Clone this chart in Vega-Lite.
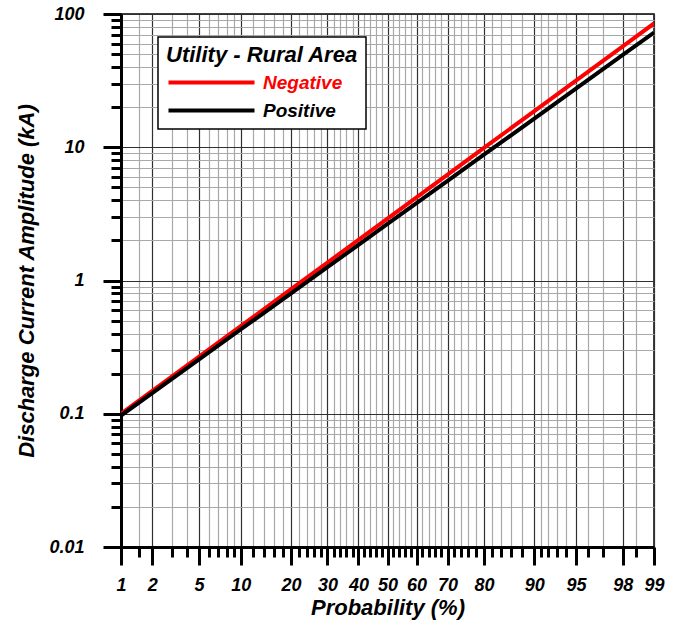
{
  "$schema": "https://vega.github.io/schema/vega-lite/v6.json",
  "width": 533,
  "height": 533,
  "autosize": {"type": "none"},
  "padding": {"left": 121, "top": 14, "right": 29, "bottom": 73},
  "background": "white",
  "config": {"view": {"stroke": "black", "strokeWidth": 1.5}, "font": "Liberation Sans"},
  "data": {"values": [
    {"series": "Negative", "p": 1, "I": 0.100},
    {"series": "Negative", "p": 2, "I": 0.1485},
    {"series": "Negative", "p": 5, "I": 0.2685},
    {"series": "Negative", "p": 10, "I": 0.4547},
    {"series": "Negative", "p": 20, "I": 0.8603},
    {"series": "Negative", "p": 30, "I": 1.362},
    {"series": "Negative", "p": 40, "I": 2.019},
    {"series": "Negative", "p": 50, "I": 2.915},
    {"series": "Negative", "p": 60, "I": 4.208},
    {"series": "Negative", "p": 70, "I": 6.234},
    {"series": "Negative", "p": 80, "I": 9.874},
    {"series": "Negative", "p": 90, "I": 18.68},
    {"series": "Negative", "p": 95, "I": 31.64},
    {"series": "Negative", "p": 98, "I": 57.24},
    {"series": "Negative", "p": 99, "I": 84.97},
    {"series": "Positive", "p": 1, "I": 0.0970},
    {"series": "Positive", "p": 2, "I": 0.1430},
    {"series": "Positive", "p": 5, "I": 0.2558},
    {"series": "Positive", "p": 10, "I": 0.4289},
    {"series": "Positive", "p": 20, "I": 0.8017},
    {"series": "Positive", "p": 30, "I": 1.259},
    {"series": "Positive", "p": 40, "I": 1.851},
    {"series": "Positive", "p": 50, "I": 2.655},
    {"series": "Positive", "p": 60, "I": 3.806},
    {"series": "Positive", "p": 70, "I": 5.596},
    {"series": "Positive", "p": 80, "I": 8.789},
    {"series": "Positive", "p": 90, "I": 16.43},
    {"series": "Positive", "p": 95, "I": 27.55},
    {"series": "Positive", "p": 98, "I": 49.27},
    {"series": "Positive", "p": 99, "I": 72.61}
  ]},
  "transform": [{"calculate": "quantileNormal(datum.p / 100)", "as": "z"}],
  "mark": {"type": "line", "strokeWidth": 4, "clip": true},
  "encoding": {
    "x": {
      "field": "z",
      "type": "quantitative",
      "scale": {"domain": [-2.326348, 2.326348], "nice": false, "zero": false},
      "axis": {
        "title": "Probability (%)",
        "values": [-2.326348, -2.170090, -2.053749, -1.880794, -1.750686, -1.644854, -1.554774, -1.475791, -1.405072, -1.340755, -1.281552, -1.174987, -1.080319, -0.994458, -0.915365, -0.841621, -0.772193, -0.706303, -0.643345, -0.582842, -0.524401, -0.467699, -0.412463, -0.358459, -0.305481, -0.253347, -0.201893, -0.150969, -0.100434, -0.050154, 0, 0.050154, 0.100434, 0.150969, 0.201893, 0.253347, 0.305481, 0.358459, 0.412463, 0.467699, 0.524401, 0.582842, 0.643345, 0.706303, 0.772193, 0.841621, 0.915365, 0.994458, 1.080319, 1.174987, 1.281552, 1.340755, 1.405072, 1.475791, 1.554774, 1.644854, 1.750686, 1.880794, 2.053749, 2.170090, 2.326348],
        "labelExpr": "indexof([1,2,5,10,20,30,40,50,60,70,80,90,95,98,99], round(cumulativeNormal(datum.value)*1000)/10) >= 0 ? '' + round(cumulativeNormal(datum.value)*100) : ''",
        "grid": true,
        "gridColor": {"condition": {"test": "indexof([1,2,5,10,20,30,40,50,60,70,80,90,95,98,99], round(cumulativeNormal(datum.value)*1000)/10) >= 0", "value": "#303030"}, "value": "#a8a8a8"},
        "gridWidth": 1.2,
        "tickSize": {"condition": {"test": "indexof([1,2,5,10,20,30,40,50,60,70,80,90,95,98,99], round(cumulativeNormal(datum.value)*1000)/10) >= 0", "value": 18}, "value": 10},
        "tickWidth": 3,
        "tickColor": "black",
        "domainColor": "black",
        "domainWidth": 3,
        "labelFont": "Liberation Sans",
        "labelFontSize": 18,
        "labelFontWeight": "bold",
        "labelFontStyle": "italic",
        "labelColor": "black",
        "labelPadding": 11,
        "labelOverlap": false,
        "labelFlush": false,
        "labelBound": false,
        "titleFont": "Liberation Sans",
        "titleFontSize": 22,
        "titleFontWeight": "bold",
        "titleFontStyle": "italic",
        "titleColor": "black",
        "titlePadding": 3
      }
    },
    "y": {
      "field": "I",
      "type": "quantitative",
      "scale": {"type": "log", "domain": [0.01, 100], "nice": false},
      "axis": {
        "title": "Discharge Current Amplitude (kA)",
        "values": [0.01, 0.02, 0.03, 0.04, 0.05, 0.06, 0.07, 0.08, 0.09, 0.1, 0.2, 0.3, 0.4, 0.5, 0.6, 0.7, 0.8, 0.9, 1, 2, 3, 4, 5, 6, 7, 8, 9, 10, 20, 30, 40, 50, 60, 70, 80, 90, 100],
        "labelExpr": "abs(log(datum.value)/LN10 - round(log(datum.value)/LN10)) < 1e-6 ? '' + datum.value : ''",
        "grid": true,
        "gridColor": {"condition": {"test": "abs(log(datum.value)/LN10 - round(log(datum.value)/LN10)) < 1e-6", "value": "#303030"}, "value": "#a8a8a8"},
        "gridWidth": 1.2,
        "tickSize": {"condition": {"test": "abs(log(datum.value)/LN10 - round(log(datum.value)/LN10)) < 1e-6", "value": 18}, "value": 10},
        "tickWidth": 3,
        "tickColor": "black",
        "domainColor": "black",
        "domainWidth": 3,
        "labelFont": "Liberation Sans",
        "labelFontSize": 18,
        "labelFontWeight": "bold",
        "labelFontStyle": "italic",
        "labelColor": "black",
        "labelPadding": 19,
        "labelOverlap": false,
        "labelFlush": false,
        "labelBound": false,
        "titleFont": "Liberation Sans",
        "titleFontSize": 22,
        "titleFontWeight": "bold",
        "titleFontStyle": "italic",
        "titleColor": "black",
        "titlePadding": 10
      }
    },
    "color": {
      "field": "series",
      "type": "nominal",
      "scale": {"domain": ["Negative", "Positive"], "range": ["#ff0000", "#000000"]},
      "legend": {
        "title": "Utility - Rural Area",
        "titleLimit": 400,
        "orient": "none",
        "legendX": 37,
        "legendY": 23,
        "fillColor": "white",
        "strokeColor": "black",
        "padding": 8,
        "titleFont": "Liberation Sans",
        "titleFontSize": 22,
        "titleFontWeight": "bold",
        "titleFontStyle": "italic",
        "titleColor": "black",
        "titlePadding": 6,
        "labelFont": "Liberation Sans",
        "labelFontSize": 19,
        "labelFontWeight": "bold",
        "labelFontStyle": "italic",
        "labelLimit": 300,
        "symbolType": "stroke",
        "symbolSize": 7400,
        "symbolStrokeWidth": 4,
        "clipHeight": 19,
        "labelOffset": 6,
        "rowPadding": 8,
        "encode": {
          "labels": {"update": {"fill": {"signal": "datum.value === 'Negative' ? '#ff0000' : '#000000'"}}},
          "legend": {"update": {"strokeWidth": {"value": 1.5}}}
        }
      }
    }
  }
}
